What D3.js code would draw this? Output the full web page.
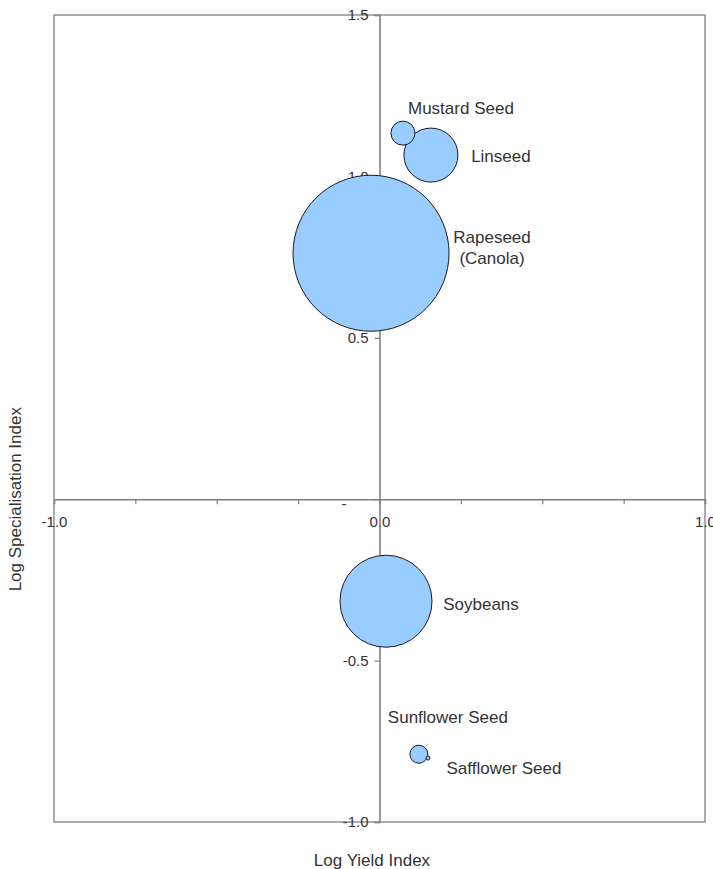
<!DOCTYPE html>
<html>
<head>
<meta charset="utf-8">
<script src="https://cdn.jsdelivr.net/npm/d3@7"></script>
<style>
  html, body { margin: 0; padding: 0; background: #fff; }
  svg { display: block; }
  text { font-family: "Liberation Sans", Arial, sans-serif; fill: #333; }
</style>
</head>
<body>
<svg id="chart" width="713" height="869"></svg>
<script>
// Oilseed crops: log yield index vs log specialisation index, bubble area = output
const crops = ["Mustard Seed", "Linseed", "Rapeseed\n(Canola)", "Soybeans", "Sunflower Seed", "Safflower Seed"];
const logYield = [0.072, 0.158, -0.026, 0.020, 0.121, 0.149];
const logSpecialisation = [1.134, 1.066, 0.762, -0.316, -0.790, -0.802];
const output = [144, 729, 6084, 2116, 81, 4];
// label offsets (px) from the bubble centre
const labelDx = [58, 70, 121, 95, 29, 76];
const labelDy = [-25, 1, -5, 3, -37, 10];

const xTicks = [-1.0, -0.75, -0.5, -0.25, 0, 0.25, 0.5, 0.75, 1.0];
const xTickLabels = ["-1.0", "", "", "", "0.0", "", "", "", "1.0"];
const yTicks = [1.5, 1.0, 0.5, 0, -0.5, -1.0];
const yTickLabels = ["1.5", "1.0", "0.5", "-", "-0.5", "-1.0"];

const svg = d3.select("#chart");
const plotLeft = 54, plotRight = 705, plotTop = 15, plotBottom = 822;

const x = d3.scaleLinear().domain([-1, 1]).range([plotLeft, plotRight]);
const y = d3.scaleLinear().domain([-1, 1.5]).range([plotBottom, plotTop]);
const r = d3.scaleSqrt().domain([0, d3.max(output)]).range([0, 78]);

const axisColor = "#808080";

// plot frame
svg.append("rect")
  .attr("x", plotLeft).attr("y", plotTop)
  .attr("width", plotRight - plotLeft).attr("height", plotBottom - plotTop)
  .attr("fill", "none").attr("stroke", axisColor).attr("stroke-width", 1.3);

// horizontal axis through y = 0
const xAxis = d3.axisBottom(x).tickValues(xTicks)
  .tickFormat((d, i) => xTickLabels[i]).tickSize(5).tickPadding(12);
const gx = svg.append("g").attr("transform", `translate(0,${y(0)})`).call(xAxis);
gx.select(".domain").attr("stroke", axisColor).attr("stroke-width", 1.6);
gx.selectAll(".tick line").attr("stroke", axisColor).attr("stroke-width", 1.2);
gx.selectAll(".tick text").style("font-size", "15px").attr("fill", "#333");

// vertical axis through x = 0
const yAxis = d3.axisLeft(y).tickValues(yTicks)
  .tickFormat((d, i) => yTickLabels[i]).tickSize(5).tickPadding(6);
const gy = svg.append("g").attr("transform", `translate(${x(0)},0)`).call(yAxis);
gy.select(".domain").attr("stroke", axisColor).attr("stroke-width", 1.6);
gy.selectAll(".tick line").attr("stroke", axisColor).attr("stroke-width", 1.2);
gy.selectAll(".tick text").style("font-size", "15px").attr("fill", "#333");
gy.selectAll(".tick").filter(d => d === 0).select("text")
  .attr("x", -33).attr("dy", "0.6em");

// bubbles, largest first so small ones stay on top
const rows = crops.map((c, i) => ({
  name: c, x: logYield[i], y: logSpecialisation[i], v: output[i],
  dx: labelDx[i], dy: labelDy[i]
}));

svg.append("g").selectAll("circle")
  .data(rows.slice().sort((a, b) => b.v - a.v))
  .join("circle")
  .attr("cx", d => x(d.x)).attr("cy", d => y(d.y)).attr("r", d => r(d.v))
  .attr("fill", "#99ccff").attr("stroke", "#1a1a1a").attr("stroke-width", 1);

// bubble labels
const labels = svg.append("g").selectAll("text")
  .data(rows).join("text")
  .attr("x", d => x(d.x) + d.dx).attr("y", d => y(d.y) + d.dy)
  .attr("text-anchor", "middle").style("font-size", "17px").attr("fill", "#333");
labels.each(function(d) {
  const lines = d.name.split("\n");
  const t = d3.select(this);
  lines.forEach((ln, k) => {
    t.append("tspan").attr("x", x(d.x) + d.dx)
      .attr("dy", k === 0 ? (lines.length > 1 ? "-0.3em" : "0.35em") : "1.25em")
      .text(ln);
  });
});

// axis titles
svg.append("text").attr("x", 372).attr("y", 866).attr("text-anchor", "middle")
  .style("font-size", "17px").text("Log Yield Index");
svg.append("text").attr("transform", `translate(21,${y(0)}) rotate(-90)`)
  .attr("text-anchor", "middle").style("font-size", "17px").text("Log Specialisation Index");
</script>
</body>
</html>
